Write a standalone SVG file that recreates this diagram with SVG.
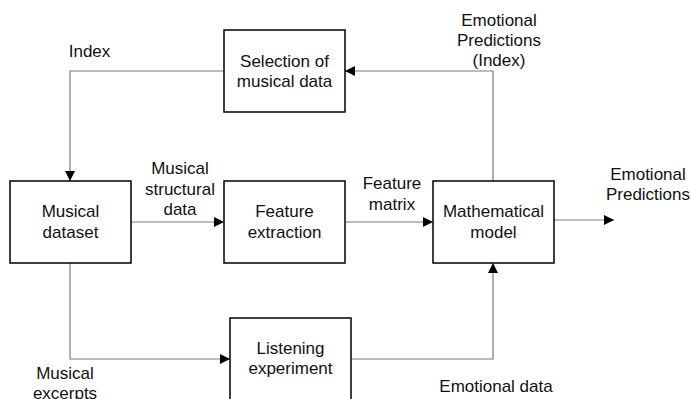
<svg xmlns="http://www.w3.org/2000/svg" width="691" height="399" viewBox="0 0 691 399">
<style>
.box{fill:#fff;stroke:#000;stroke-width:1.5}
.ln{fill:none;stroke:#7a7a7a;stroke-width:1.2}
text{font-family:"Liberation Sans",Arial,sans-serif;font-size:17px;fill:#111;text-anchor:middle}
</style>
<defs>
<marker id="ah" viewBox="0 0 10 10" refX="10" refY="5" markerWidth="10" markerHeight="10" markerUnits="userSpaceOnUse" orient="auto">
<path d="M0,0 L10,5 L0,10 z" fill="#000"/>
</marker>
</defs>
<rect width="691" height="399" fill="#fff"/>
<g id="connectors">
<path class="ln" d="M224,71 H70 V181" marker-end="url(#ah)"/>
<path class="ln" d="M493,181 V71 H345" marker-end="url(#ah)"/>
<path class="ln" d="M131,222 H224" marker-end="url(#ah)"/>
<path class="ln" d="M345,222 H433" marker-end="url(#ah)"/>
<path class="ln" d="M554,220 H614" marker-end="url(#ah)"/>
<path class="ln" d="M70,263 V359 H230" marker-end="url(#ah)"/>
<path class="ln" d="M351,359 H493 V263" marker-end="url(#ah)"/>
</g>
<g id="selection">
<rect class="box" x="224" y="30" width="121" height="82"/>
<text x="284.5" y="67">Selection of</text>
<text x="284.5" y="87">musical data</text>
</g>
<g id="dataset">
<rect class="box" x="10" y="181" width="121" height="82"/>
<text x="70.5" y="217">Musical</text>
<text x="70.5" y="238">dataset</text>
</g>
<g id="feature">
<rect class="box" x="224" y="181" width="121" height="82"/>
<text x="284.5" y="217">Feature</text>
<text x="284.5" y="238">extraction</text>
</g>
<g id="model">
<rect class="box" x="433" y="181" width="121" height="82"/>
<text x="493.5" y="217">Mathematical</text>
<text x="493.5" y="238">model</text>
</g>
<g id="listening">
<rect class="box" x="230" y="318" width="121" height="90"/>
<text x="290.5" y="354">Listening</text>
<text x="290.5" y="374">experiment</text>
</g>
<g id="labels">
<text x="89.5" y="57">Index</text>
<text x="499" y="26">Emotional</text>
<text x="499" y="46">Predictions</text>
<text x="499" y="66">(Index)</text>
<text x="180" y="174">Musical</text>
<text x="180" y="195">structural</text>
<text x="180" y="215">data</text>
<text x="392" y="189">Feature</text>
<text x="392" y="210">matrix</text>
<text x="648" y="180">Emotional</text>
<text x="648" y="200">Predictions</text>
<text x="65" y="379">Musical</text>
<text x="65" y="399">excerpts</text>
<text x="496" y="392">Emotional data</text>
</g>
</svg>
